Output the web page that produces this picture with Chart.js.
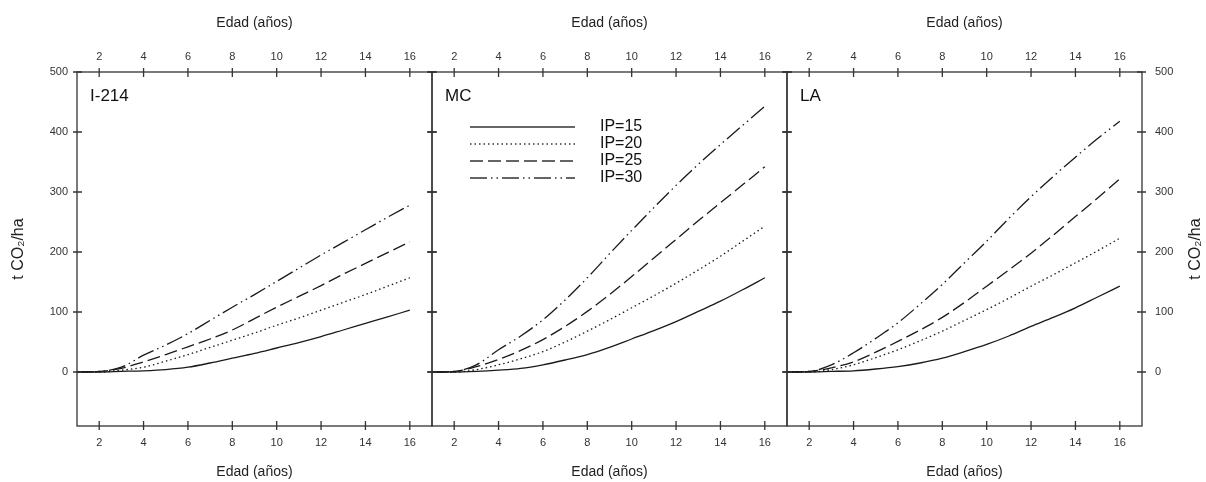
<!DOCTYPE html>
<html>
<head>
<meta charset="utf-8">
<script src="https://cdn.jsdelivr.net/npm/chart.js@4.4.0/dist/chart.umd.min.js"></script>
<style>
  html, body { margin: 0; padding: 0; background: #fff; }
  #wrap { position: relative; width: 1206px; height: 482px; overflow: hidden; }
  #wrap canvas { position: absolute; top: 0; }
</style>
</head>
<body>
<div id="wrap">
  <canvas id="panel1" width="440" height="482" style="left:0px"></canvas>
  <canvas id="panel2" width="371" height="482" style="left:424px"></canvas>
  <canvas id="panel3" width="427" height="482" style="left:779px"></canvas>
</div>
<script>
const ages = [1, 2, 3, 4, 5, 6, 7, 8, 9, 10, 11, 12, 13, 14, 15, 16];
const ageTicks = [2, 4, 6, 8, 10, 12, 14, 16];
const co2Ticks = [0, 100, 200, 300, 400, 500];
const seriesNames = ['IP=15', 'IP=20', 'IP=25', 'IP=30'];

// I-214
const i214_ip15 = [0, 0, 1, 2, 4, 8, 15, 23, 31, 40, 49, 59, 70, 81, 92, 103];
const i214_ip20 = [0, 0, 3, 8, 18, 29, 41, 53, 65, 78, 90, 103, 116, 129, 143, 157];
const i214_ip25 = [0, 1, 6, 17, 29, 42, 55, 70, 89, 108, 126, 144, 163, 181, 199, 217];
const i214_ip30 = [0, 1, 8, 28, 45, 64, 86, 108, 129, 151, 173, 195, 216, 237, 258, 278];

// MC
const mc_ip15 = [0, 0, 1, 3, 6, 12, 20, 29, 41, 55, 69, 84, 101, 118, 137, 157];
const mc_ip20 = [0, 0, 4, 12, 22, 34, 50, 68, 87, 107, 127, 148, 170, 193, 218, 243];
const mc_ip25 = [0, 1, 9, 21, 36, 54, 76, 101, 129, 159, 190, 221, 252, 282, 312, 342];
const mc_ip30 = [0, 1, 12, 37, 60, 87, 120, 157, 197, 236, 274, 311, 346, 379, 411, 443];

// LA
const la_ip15 = [0, 0, 1, 2, 5, 9, 15, 23, 34, 46, 60, 76, 91, 107, 125, 143];
const la_ip20 = [0, 0, 4, 12, 24, 37, 52, 68, 86, 104, 123, 143, 162, 182, 202, 223];
const la_ip25 = [0, 1, 7, 17, 33, 51, 70, 91, 116, 143, 170, 198, 228, 259, 290, 322];
const la_ip30 = [0, 1, 12, 32, 56, 82, 113, 146, 182, 218, 256, 292, 326, 358, 389, 418];

const FONT = '"Liberation Sans", Arial, sans-serif';
Chart.defaults.font.family = FONT;

const dashes = [[], [1.5, 3], [13, 5], [17, 4, 1.5, 4, 1.5, 4]];

function makeDatasets(list) {
  return list.map((vals, i) => ({
    label: seriesNames[i],
    data: vals.map((v, k) => ({ x: ages[k], y: v })),
    borderColor: '#1a1a1a',
    borderWidth: 1.3,
    borderDash: dashes[i],
    pointRadius: 0,
    cubicInterpolationMode: 'monotone',
    fill: false
  }));
}

// marco del panel con marcas que cruzan el borde + etiqueta del panel
const frame = {
  id: 'frame',
  afterDatasetsDraw(chart, args, opts) {
    const { ctx, chartArea: a, scales } = chart;
    const x = scales.x, y = scales.y;
    ctx.save();
    ctx.strokeStyle = '#333';
    ctx.lineWidth = 1.3;
    ctx.strokeRect(a.left, a.top, a.right - a.left, a.bottom - a.top);
    ctx.beginPath();
    ageTicks.forEach(v => {
      const px = x.getPixelForValue(v);
      ctx.moveTo(px, a.top - 4); ctx.lineTo(px, a.top + 5);
      ctx.moveTo(px, a.bottom - 5); ctx.lineTo(px, a.bottom + 4);
    });
    co2Ticks.forEach(v => {
      const py = y.getPixelForValue(v);
      ctx.moveTo(a.left - 4, py); ctx.lineTo(a.left + 5, py);
      ctx.moveTo(a.right - 5, py); ctx.lineTo(a.right + 4, py);
    });
    ctx.stroke();
    ctx.fillStyle = '#111';
    ctx.font = '17px ' + FONT;
    ctx.textBaseline = 'middle';
    ctx.fillText(opts.label, a.left + 13, a.top + 24.5);

    if (opts.legend) {
      chart.data.datasets.forEach((ds, i) => {
        const ly = a.top + 55 + i * 17;
        ctx.beginPath();
        ctx.setLineDash(ds.borderDash);
        ctx.strokeStyle = '#333';
        ctx.lineWidth = 1.3;
        ctx.moveTo(a.left + 38, ly);
        ctx.lineTo(a.left + 143, ly);
        ctx.stroke();
        ctx.setLineDash([]);
        ctx.font = '16px ' + FONT;
        ctx.fillStyle = '#111';
        ctx.fillText(ds.label, a.left + 168, ly);
      });
    }
    if (opts.rightTitle) {
      ctx.translate(chart.width - 10, (a.top + a.bottom) / 2);
      ctx.rotate(-Math.PI / 2);
      ctx.textAlign = 'center';
      ctx.font = '16px ' + FONT;
      ctx.fillStyle = '#222';
      ctx.fillText('t CO₂/ha', 0, 0);
    }
    ctx.restore();
  }
};

function xScale(pos) {
  return {
    type: 'linear',
    position: pos,
    min: 1,
    max: 17,
    afterBuildTicks: s => { s.ticks = ageTicks.map(v => ({ value: v })); },
    afterFit: s => { s.height = pos === 'top' ? 72 : 56; },
    grid: { display: false, drawTicks: false },
    border: { display: false },
    ticks: { color: '#333', font: { size: 11 }, padding: pos === 'top' ? 8 : 10, maxRotation: 0, autoSkip: false },
    title: {
      display: true,
      text: 'Edad (años)',
      color: '#222',
      font: { size: 14 },
      padding: pos === 'top' ? { top: 15, bottom: 0 } : { top: 0, bottom: 1 }
    }
  };
}

function yScale(mode) {
  const s = {
    type: 'linear',
    min: -90,
    max: 500,
    display: mode !== 'none',
    position: mode === 'right' ? 'right' : 'left',
    afterBuildTicks: sc => { sc.ticks = co2Ticks.map(v => ({ value: v })); },
    grid: { display: false, drawTicks: false },
    border: { display: false },
    ticks: { color: '#333', font: { size: 11 }, padding: mode === 'right' ? 13 : 9 },
    title: { display: false }
  };
  if (mode === 'left') {
    s.afterFit = sc => { sc.width = 77; };
    s.title = { display: true, text: 't CO₂/ha', color: '#222', font: { size: 16 }, padding: { top: 9, bottom: 0 } };
  }
  if (mode === 'right') {
    s.afterFit = sc => { sc.width = 64; };
  }
  return s;
}

function makePanel(id, label, series, yMode, padding, extra) {
  new Chart(document.getElementById(id), {
    type: 'line',
    data: { datasets: makeDatasets(series) },
    options: {
      responsive: false,
      animation: false,
      devicePixelRatio: 1,
      layout: { padding: padding },
      scales: {
        x: xScale('bottom'),
        xTop: xScale('top'),
        y: yScale(yMode)
      },
      plugins: {
        legend: { display: false },
        tooltip: { enabled: false },
        frame: Object.assign({ label: label }, extra)
      }
    },
    plugins: [frame]
  });
}

makePanel('panel1', 'I-214', [i214_ip15, i214_ip20, i214_ip25, i214_ip30], 'left', { left: 0, right: 8, top: 0, bottom: 0 }, {});
makePanel('panel2', 'MC', [mc_ip15, mc_ip20, mc_ip25, mc_ip30], 'none', { left: 8, right: 8, top: 0, bottom: 0 }, { legend: true });
makePanel('panel3', 'LA', [la_ip15, la_ip20, la_ip25, la_ip30], 'right', { left: 8, right: 0, top: 0, bottom: 0 }, { rightTitle: true });
</script>
</body>
</html>
